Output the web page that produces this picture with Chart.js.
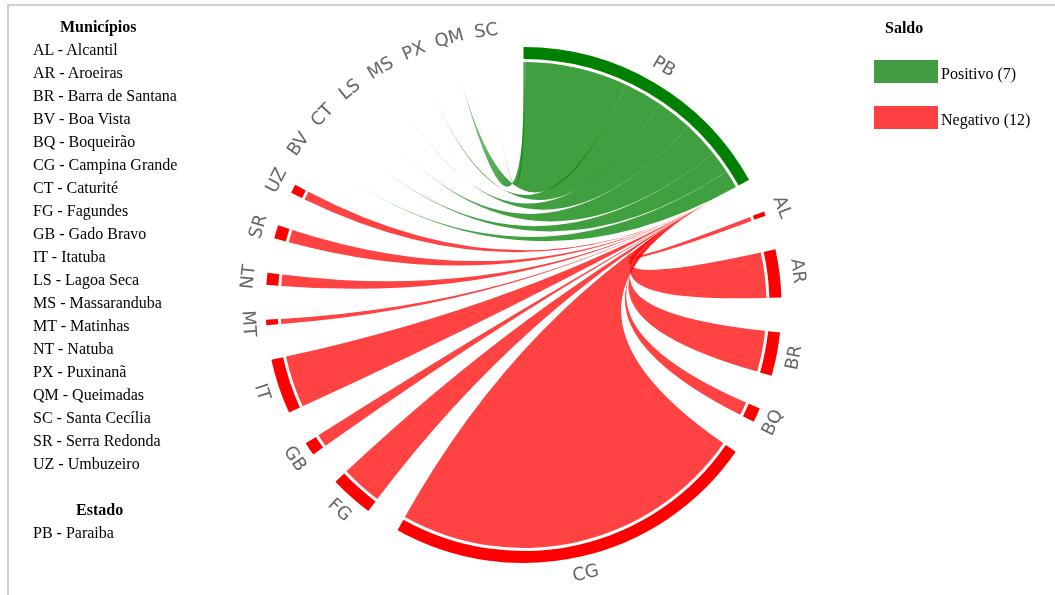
<!DOCTYPE html>
<html><head><meta charset="utf-8">
<script src="https://cdn.jsdelivr.net/npm/chart.js@4"></script>
<style>
body{margin:0;width:1055px;height:595px;overflow:hidden;background:#fff;position:relative;font-family:"Liberation Serif","Times New Roman",serif;color:#000;}
#c{position:absolute;left:0;top:0;}
.frameTop{position:absolute;left:7px;top:4px;width:1048px;height:2px;background:#cfcfcf;}
.frameLeft{position:absolute;left:7px;top:4px;width:2px;height:591px;background:#cfcfcf;}
.list{position:absolute;left:33px;top:15px;font-size:16px;line-height:23px;}
.list div{white-space:nowrap;height:23px;}
.list .h{font-weight:bold;}
.saldo{position:absolute;left:885px;top:16px;font-size:16px;font-weight:bold;line-height:23px;}
.sw{position:absolute;left:874px;width:64px;height:23px;}
.lt{position:absolute;left:941px;font-size:16px;line-height:23px;white-space:nowrap;}
</style></head><body>
<canvas id="c" width="1055" height="595"></canvas>
<div class="frameTop"></div><div class="frameLeft"></div>
<div class="list" id="list"></div>
<div class="saldo">Saldo</div>
<div class="sw" style="top:60px;background:rgb(67,156,67);"></div>
<div class="lt" id="posLbl" style="top:62px;"></div>
<div class="sw" style="top:106px;background:rgb(255,64,64);"></div>
<div class="lt" id="negLbl" style="top:108px;"></div>
<script>
// ---------- data ----------
const stateCode = 'PB';
const stateName = 'Paraiba';
const negCodes = ['AL','AR','BR','BQ','CG','FG','GB','IT','MT','NT','SR','UZ'];
const negValues = [1, 10.8, 9.8, 3.2, 84.6, 9.8, 3, 12.4, 1.2, 2.7, 3, 2];
const posCodes = ['BV','CT','LS','MS','PX','QM','SC'];
const posValues = [4.3, 5.3, 8.7, 8.5, 9.2, 24.5, 0.5];
const posRibbonOrder = ['SC','QM','PX','MS','LS','CT','BV'];
const listCodes = ['AL','AR','BR','BV','BQ','CG','CT','FG','GB','IT','LS','MS','MT','NT','PX','QM','SC','SR','UZ'];
const listNames = ['Alcantil','Aroeiras','Barra de Santana','Boa Vista','Boqueirão','Campina Grande','Caturité','Fagundes','Gado Bravo','Itatuba','Lagoa Seca','Massaranduba','Matinhas','Natuba','Puxinanã','Queimadas','Santa Cecília','Serra Redonda','Umbuzeiro'];
const GAP_DEG = 7.78;

// ---------- legend / list ----------
const list = document.getElementById('list');
let html = '<div class="h" style="padding-left:27px">Municípios</div>';
listCodes.forEach((c,i)=>{ html += '<div>'+c+' - '+listNames[i]+'</div>'; });
html += '<div></div><div class="h" style="padding-left:43px">Estado</div><div>'+stateCode+' - '+stateName+'</div>';
list.innerHTML = html;
document.getElementById('posLbl').textContent = 'Positivo ('+posCodes.length+')';
document.getElementById('negLbl').textContent = 'Negativo ('+negCodes.length+')';

// ---------- chart data ----------
const sum = a => a.reduce((s,v)=>s+v,0);
const groups = [stateCode, ...negCodes, ...posCodes];
const groupVals = [sum(posValues), ...negValues, ...posCodes.map(()=>0)];
const groupCols = ['#008000', ...negCodes.map(()=>'#ff0000'), ...posCodes.map(()=>'#008000')];
const gapVal = GAP_DEG/(360 - groups.length*GAP_DEG) * sum(groupVals);
const data = [], colors = [];
groups.forEach((g,i)=>{ data.push(groupVals[i]); colors.push(groupCols[i]); data.push(gapVal); colors.push('rgba(0,0,0,0)'); });

const chordPlugin = {
  id:'chord',
  beforeDatasetsDraw(chart){
    const arcs = chart.getDatasetMeta(0).data;
    const ctx = chart.ctx;
    const cx = arcs[0].x, cy = arcs[0].y;
    const Rr = arcs[0].innerRadius - 3;
    const P = (a,r)=>({x:cx+r*Math.cos(a), y:cy+r*Math.sin(a)});
    const ribbon = (a0,a1,t,rTip,fill)=>{
      const p0 = P(a0,Rr), T = P(t,rTip);
      ctx.beginPath();
      ctx.moveTo(p0.x,p0.y);
      ctx.arc(cx,cy,Rr,a0,a1);
      ctx.quadraticCurveTo(cx,cy,T.x,T.y);
      ctx.quadraticCurveTo(cx,cy,p0.x,p0.y);
      ctx.closePath();
      ctx.fillStyle = fill;
      ctx.fill();
    };
    ctx.save();
    const pb = arcs[0];
    // red ribbons: from municipality to the state
    negCodes.forEach(code=>{
      const arc = arcs[groups.indexOf(code)*2];
      ribbon(arc.startAngle, arc.endAngle, pb.endAngle, Rr-25, 'rgba(255,0,0,0.74)');
    });
    // green ribbons: from the state to municipality
    const span = pb.endAngle - pb.startAngle, tot = sum(posValues);
    let a = pb.startAngle;
    posRibbonOrder.forEach(code=>{
      const v = posValues[posCodes.indexOf(code)];
      const a0 = a, a1 = a + span*v/tot; a = a1;
      const tg = arcs[groups.indexOf(code)*2];
      const t = (tg.startAngle+tg.endAngle)/2;
      const B = P((a0+a1)/2,Rr), T = P(t,Rr);
      const g = ctx.createLinearGradient(B.x,B.y,T.x,T.y);
      g.addColorStop(0,'rgba(0,128,0,0.75)');
      g.addColorStop(0.6,'rgba(0,128,0,0.75)');
      g.addColorStop(1,'rgba(0,128,0,0.45)');
      ribbon(a0,a1,t,Rr-4,g);
    });
    ctx.restore();
  },
  afterDatasetsDraw(chart){
    const arcs = chart.getDatasetMeta(0).data;
    const ctx = chart.ctx;
    const cx = arcs[0].x, cy = arcs[0].y;
    const rL = arcs[0].outerRadius + 18;
    ctx.save();
    ctx.font = '18px "DejaVu Sans"';
    ctx.fillStyle = '#666';
    ctx.textAlign = 'center';
    ctx.textBaseline = 'middle';
    groups.forEach((g,i)=>{
      const arc = arcs[i*2];
      const m = (arc.startAngle+arc.endAngle)/2;
      let th = m + Math.PI/2;
      th = ((th % (2*Math.PI)) + 2*Math.PI) % (2*Math.PI);
      const rot = (th > Math.PI/2 && th < 3*Math.PI/2) ? th - Math.PI : th;
      ctx.save();
      ctx.translate(cx + rL*Math.cos(m), cy + rL*Math.sin(m));
      ctx.rotate(rot);
      ctx.fillText(g,0,0);
      ctx.restore();
    });
    ctx.restore();
  }
};

new Chart(document.getElementById('c'), {
  type:'doughnut',
  data:{ labels: groups.flatMap(g=>[g,'']), datasets:[{ data, backgroundColor: colors, borderWidth:0, hoverOffset:0 }] },
  options:{
    responsive:false, animation:false, events:[],
    radius:258, cutout:(246/258*100)+'%',
    layout:{ padding:{ left:0, right:8, top:15, bottom:0 } },
    plugins:{ legend:{display:false}, tooltip:{enabled:false} }
  },
  plugins:[chordPlugin]
});
</script>
</body></html>
